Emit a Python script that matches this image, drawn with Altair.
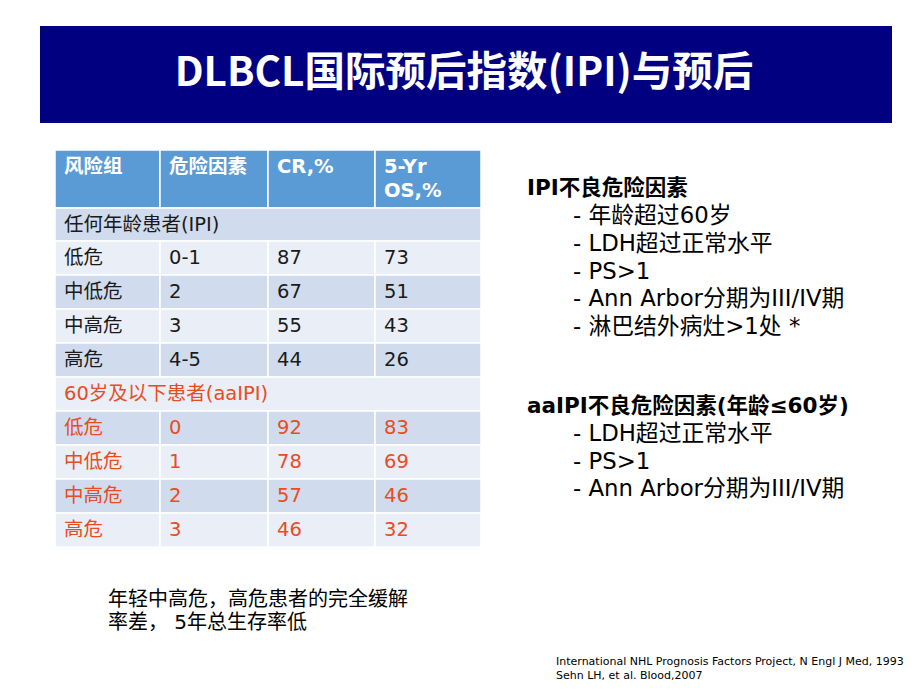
import altair as alt
import pandas as pd

# ---------------- data ----------------
title_text = "DLBCL国际预后指数(IPI)与预后"
header_labels = ["风险组", "危险因素", "CR,%", "5-Yr\nOS,%"]
section_ipi = "任何年龄患者(IPI)"
section_aa = "60岁及以下患者(aaIPI)"
ipi_groups = ["低危", "中低危", "中高危", "高危"]
ipi_factors = ["0-1", "2", "3", "4-5"]
ipi_cr = [87, 67, 55, 44]
ipi_os = [73, 51, 43, 26]
aa_groups = ["低危", "中低危", "中高危", "高危"]
aa_factors = ["0", "1", "2", "3"]
aa_cr = [92, 78, 57, 46]
aa_os = [83, 69, 46, 32]
ipi_heading = "IPI不良危险因素"
ipi_items = ["- 年龄超过60岁", "- LDH超过正常水平", "- PS>1", "- Ann Arbor分期为III/IV期", "- 淋巴结外病灶>1处 *"]
aa_heading = "aaIPI不良危险因素(年龄≤60岁)"
aa_items = ["- LDH超过正常水平", "- PS>1", "- Ann Arbor分期为III/IV期"]
note_text = "年轻中高危，高危患者的完全缓解\n率差， 5年总生存率低"
citation_text = "International NHL Prognosis Factors Project, N Engl J Med, 1993\nSehn LH, et al. Blood,2007"

# ---------------- layout (page pixel coordinates) ----------------
W, H = 904, 674
FONT = "DejaVu Sans, Noto Sans CJK SC"
TITLE_FONT = "Noto Sans CJK SC"
col_edges = [55, 160, 268, 375, 481]
row_edges = [150, 208, 241, 275, 309, 343, 377, 411, 445, 479, 513, 547]
HEADER_BLUE = "#5B9BD5"
BAND_DARK = "#D0DCEE"
BAND_LIGHT = "#E9EEF7"
RED = "#E84C22"
BLACK = "#1A1A1A"
CELL_FS = 19.5

xs = alt.Scale(domain=[8, 8 + W], range=[0, W], nice=False, zero=False)
ys = alt.Scale(domain=[8, 8 + H], range=[0, H], nice=False, zero=False)

def X(f="x"):
    return alt.X(f"{f}:Q", scale=xs, axis=None)

def Y(f="y"):
    return alt.Y(f"{f}:Q", scale=ys, axis=None)

# body rows
body_rows = [("section", section_ipi, BLACK)]
for g, f, c, o in zip(ipi_groups, ipi_factors, ipi_cr, ipi_os):
    body_rows.append(("row", [g, f, str(c), str(o)], BLACK))
body_rows.append(("section", section_aa, RED))
for g, f, c, o in zip(aa_groups, aa_factors, aa_cr, aa_os):
    body_rows.append(("row", [g, f, str(c), str(o)], RED))

rects, texts, head_texts = [], [], []
for j in range(4):
    rects.append(dict(x=col_edges[j], x2=col_edges[j + 1], y=row_edges[0], y2=row_edges[1], fill=HEADER_BLUE))
    head_texts.append(dict(x=col_edges[j] + 9, y=167 - 0.44 * CELL_FS, t=header_labels[j]))

for i, (kind, content, colr) in enumerate(body_rows):
    y0, y1 = row_edges[i + 1], row_edges[i + 2]
    fill = BAND_DARK if i % 2 == 0 else BAND_LIGHT
    ym = (y0 + y1) / 2
    if kind == "section":
        rects.append(dict(x=col_edges[0], x2=col_edges[-1], y=y0, y2=y1, fill=fill))
        texts.append(dict(x=col_edges[0] + 9, y=ym, t=content, c=colr))
    else:
        for j in range(4):
            rects.append(dict(x=col_edges[j], x2=col_edges[j + 1], y=y0, y2=y1, fill=fill))
            texts.append(dict(x=col_edges[j] + 9, y=ym, t=content[j], c=colr))

cells = alt.Chart(pd.DataFrame(rects)).mark_rect(stroke="white", strokeWidth=1.5).encode(
    x=X("x"), x2="x2", y=Y("y"), y2="y2", fill=alt.Fill("fill:N", scale=None)
)
table_text = alt.Chart(pd.DataFrame(texts)).mark_text(
    align="left", baseline="middle", font=FONT, fontSize=CELL_FS
).encode(x=X(), y=Y(), text="t:N", color=alt.Color("c:N", scale=None))
header_text = alt.Chart(pd.DataFrame(head_texts)).mark_text(
    align="left", baseline="top", font=FONT, fontSize=CELL_FS, fontWeight="bold",
    color="white", lineBreak="\n", lineHeight=24
).encode(x=X(), y=Y(), text="t:N")

# title banner
banner = alt.Chart(pd.DataFrame([dict(x=40, x2=892, y=26, y2=123)])).mark_rect(color="#000080").encode(
    x=X("x"), x2="x2", y=Y("y"), y2="y2"
)
title = alt.Chart(pd.DataFrame([dict(x=464, y=74, t=title_text)])).mark_text(
    align="center", baseline="middle", font=TITLE_FONT, fontSize=40.5, fontWeight="bold", color="white"
).encode(x=X(), y=Y(), text="t:N")

# right-hand lists
heads = pd.DataFrame([dict(x=527, y=189, t=ipi_heading), dict(x=527, y=407, t=aa_heading)])
items = pd.DataFrame(
    [dict(x=573, y=216 + 27.8 * k, t=s) for k, s in enumerate(ipi_items)]
    + [dict(x=573, y=434 + 27.5 * k, t=s) for k, s in enumerate(aa_items)]
)
heads_l = alt.Chart(heads).mark_text(
    align="left", baseline="middle", font=FONT, fontSize=21.5, fontWeight="bold", color="black"
).encode(x=X(), y=Y(), text="t:N")
items_l = alt.Chart(items).mark_text(
    align="left", baseline="middle", font=FONT, fontSize=22.8, color="black"
).encode(x=X(), y=Y(), text="t:N")

# note and citation (multi-line texts)
notes_l = alt.Chart(pd.DataFrame([dict(x=108, y=599 - 0.44 * 20, t=note_text)])).mark_text(
    align="left", baseline="top", font=FONT, fontSize=20, color="black", lineBreak="\n", lineHeight=23
).encode(x=X(), y=Y(), text="t:N")
cites_l = alt.Chart(pd.DataFrame([dict(x=556, y=661 - 0.44 * 11, t=citation_text)])).mark_text(
    align="left", baseline="top", font=FONT, fontSize=11, color="black", lineBreak="\n", lineHeight=13.5
).encode(x=X(), y=Y(), text="t:N")

chart = alt.layer(
    banner, title, cells, table_text, header_text, heads_l, items_l, notes_l, cites_l
).properties(
    width=W, height=H, padding=0, autosize=alt.AutoSizeParams(type="none")
).configure_view(strokeWidth=0)

chart.save("out.html", embed_options={"renderer": "svg", "actions": False})
